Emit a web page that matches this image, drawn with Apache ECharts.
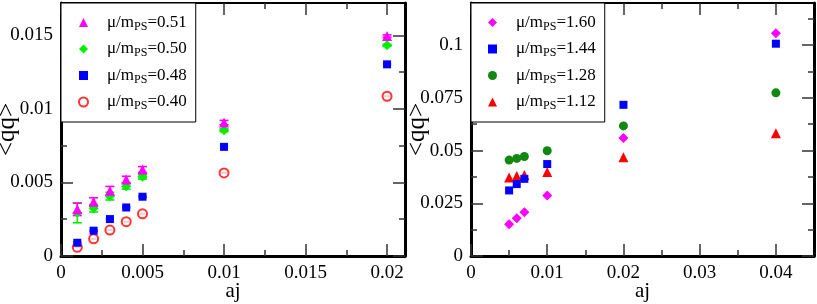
<!DOCTYPE html>
<html><head><meta charset="utf-8">
<script src="https://cdn.jsdelivr.net/npm/echarts@6/dist/echarts.min.js"></script>
<style>html,body{margin:0;padding:0;background:#fff}#c{width:817px;height:304px}</style>
</head><body><div id="c"></div>
<script>
// ---------- data ----------
const leftNames = ['μ/m_PS=0.51', 'μ/m_PS=0.50', 'μ/m_PS=0.48', 'μ/m_PS=0.40'];
const leftX = [0.001, 0.002, 0.003, 0.004, 0.005, 0.01, 0.02];
const leftY051 = [0.00317, 0.00369, 0.00443, 0.00520, 0.00588, 0.00907, 0.01495];
const leftE051 = [0.00042, 0.00027, 0.00030, 0.00022, 0.00020, 0.00015, 0.00008];
const leftY050 = [0.00294, 0.00324, 0.00407, 0.00475, 0.00538, 0.00855, 0.01432];
const leftE050 = [0.00068, 0.00025, 0.00026, 0.00020, 0.00015, 0.00010, 0.00006];
const leftY048 = [0.00090, 0.00172, 0.00251, 0.00330, 0.00403, 0.00742, 0.01303];
const leftE048 = [0.00006, 0.00004, 0.00004, 0.00004, 0.00004, 0.00004, 0.00004];
const leftY040 = [0.00059, 0.00117, 0.00176, 0.00233, 0.00287, 0.00565, 0.01086];
const leftE040 = [0.00001, 0.00001, 0.00001, 0.00001, 0.00001, 0.00001, 0.00001];

const rightNames = ['μ/m_PS=1.60', 'μ/m_PS=1.44', 'μ/m_PS=1.28', 'μ/m_PS=1.12'];
const rightX = [0.005, 0.006, 0.007, 0.01, 0.02, 0.04];
const rightY160 = [0.0151, 0.0179, 0.0208, 0.0287, 0.0560, 0.1057];
const rightY144 = [0.0311, 0.0341, 0.0366, 0.0436, 0.0717, 0.1007];
const rightY128 = [0.0455, 0.0463, 0.0472, 0.0499, 0.0617, 0.0774];
const rightY112 = [0.0372, 0.0380, 0.0384, 0.0398, 0.0468, 0.0582];

const leftXTicks = [0, 0.005, 0.01, 0.015, 0.02];
const leftXMinor = [0.0025, 0.0075, 0.0125, 0.0175];
const leftYTicks = [0, 0.005, 0.01, 0.015];
const leftYMinor = [0.0025, 0.0075, 0.0125];
const rightXTicks = [0, 0.01, 0.02, 0.03, 0.04];
const rightXMinor = [0.005, 0.015, 0.025, 0.035];
const rightYTicks = [0, 0.025, 0.05, 0.075, 0.1];
const rightYMinor = [0.0125, 0.0375, 0.0625, 0.0875, 0.1125];

const xName = 'aj';
const yName = '<qq>';

// ---------- helpers ----------
const FONT = 'Liberation Serif';
const TICK = '#333';

function pairs(xs, ys) { return xs.map((x, i) => [x, ys[i]]); }
function triples(xs, ys, es) { return xs.map((x, i) => [x, ys[i], es[i]]); }

function axisSet(dim, grid, max, majors, minors) {
  const isX = dim === 'x';
  const posA = isX ? 'bottom' : 'left';
  const posB = isX ? 'top' : 'right';
  const base = { type: 'value', gridIndex: grid, min: 0, max: max, splitLine: { show: false }, scale: false };
  const out = [];
  out.push(Object.assign({}, base, {
    position: posA,
    name: isX ? xName : yName,
    nameLocation: 'middle',
    nameGap: isX ? 25 : 41,
    nameMoveOverlap: false,
    nameTextStyle: { fontFamily: FONT, fontSize: isX ? 21 : 25, color: '#000' },
    axisLine: { show: true, onZero: false, lineStyle: { color: '#000', width: 3 } },
    axisTick: { show: true, inside: true, length: 12, customValues: majors, lineStyle: { color: TICK, width: 1.5 } },
    axisLabel: { show: true, customValues: majors, margin: isX ? 8 : 8, fontFamily: FONT, fontSize: 19, color: '#000', hideOverlap: false }
  }));
  out.push(Object.assign({}, base, {
    position: posA,
    axisLine: { show: false, onZero: false },
    axisTick: { show: true, inside: true, length: 6, customValues: minors, lineStyle: { color: TICK, width: 1.5 } },
    axisLabel: { show: false }
  }));
  out.push(Object.assign({}, base, {
    position: posB,
    axisLine: { show: true, onZero: false, lineStyle: { color: '#000', width: isX ? 2 : 3 } },
    axisTick: { show: true, inside: true, length: 12, customValues: majors, lineStyle: { color: TICK, width: 1.5 } },
    axisLabel: { show: false }
  }));
  out.push(Object.assign({}, base, {
    position: posB,
    axisLine: { show: false, onZero: false },
    axisTick: { show: true, inside: true, length: 6, customValues: minors, lineStyle: { color: TICK, width: 1.5 } },
    axisLabel: { show: false }
  }));
  return out;
}

const xAxes = [].concat(
  axisSet('x', 0, 0.0211, leftXTicks, leftXMinor),
  axisSet('x', 1, 0.045, rightXTicks, rightXMinor)
);
const yAxes = [].concat(
  axisSet('y', 0, 0.0172, leftYTicks, leftYMinor),
  axisSet('y', 1, 0.12, rightYTicks, rightYMinor)
);

function scatter(name, grid, data, symbol, size, color, extra) {
  return Object.assign({
    name: name, type: 'scatter', xAxisIndex: grid * 4, yAxisIndex: grid * 4,
    data: data, symbol: symbol, symbolSize: size,
    itemStyle: { color: color, opacity: 1 },
    emphasis: { disabled: true }, silent: true, z: 3
  }, extra || {});
}

function errbar(id, grid, data, color, capHalf) {
  return {
    name: id, type: 'custom', xAxisIndex: grid * 4, yAxisIndex: grid * 4,
    data: data, silent: true, z: 3,
    renderItem: function (params, api) {
      const x = api.value(0), y = api.value(1), e = api.value(2);
      const lo = api.coord([x, y - e]);
      const hi = api.coord([x, y + e]);
      const st = { stroke: color, lineWidth: 1.6 };
      return {
        type: 'group',
        children: [
          { type: 'line', shape: { x1: lo[0], y1: lo[1], x2: hi[0], y2: hi[1] }, style: st },
          { type: 'line', shape: { x1: lo[0] - capHalf, y1: lo[1], x2: lo[0] + capHalf, y2: lo[1] }, style: st },
          { type: 'line', shape: { x1: hi[0] - capHalf, y1: hi[1], x2: hi[0] + capHalf, y2: hi[1] }, style: st }
        ]
      };
    }
  };
}

const MAG = '#ff00ff', LGREEN = '#00ee00', BLUE = '#0000ff', RED = '#ff0000', DGREEN = '#118811';

const series = [
  scatter(leftNames[3], 0, pairs(leftX, leftY040), 'emptyCircle', 9, RED, { itemStyle: { color: RED, borderWidth: 2.2 } }),
  errbar('e040', 0, triples(leftX, leftY040, leftE040), RED, 2.5),
  errbar('e048', 0, triples(leftX, leftY048, leftE048), BLUE, 4),
  scatter(leftNames[2], 0, pairs(leftX, leftY048), 'rect', 8, BLUE),
  errbar('e050', 0, triples(leftX, leftY050, leftE050), LGREEN, 4.5),
  scatter(leftNames[1], 0, pairs(leftX, leftY050), 'diamond', 10, LGREEN),
  errbar('e051', 0, triples(leftX, leftY051, leftE051), MAG, 4.5),
  scatter(leftNames[0], 0, pairs(leftX, leftY051), 'triangle', 10, MAG),

  scatter(rightNames[3], 1, pairs(rightX, rightY112), 'triangle', 10, RED),
  scatter(rightNames[2], 1, pairs(rightX, rightY128), 'circle', 9, DGREEN),
  scatter(rightNames[1], 1, pairs(rightX, rightY144), 'rect', 8, BLUE),
  scatter(rightNames[0], 1, pairs(rightX, rightY160), 'diamond', 10, MAG)
];

function legendFmt(name) {
  const v = name.split('=')[1];
  return '{b|μ/m}{s|PS}{a|=' + v + '}';
}
const legendRich = {
  a: { fontFamily: FONT, fontSize: 17, color: '#000', lineHeight: 20 },
  b: { fontFamily: FONT, fontSize: 17, color: '#000', lineHeight: 20, padding: [0, 0, 0, 14] },
  s: { fontFamily: FONT, fontSize: 12, color: '#000', lineHeight: 2, verticalAlign: 'bottom' }
};
function legend(left, names) {
  return {
    left: left, top: 3, orient: 'vertical', data: names,
    padding: [11, 9, 10, 17], itemGap: 8, itemWidth: 9, itemHeight: 9,
    backgroundColor: '#fff', borderColor: '#000', borderWidth: 1,
    selectedMode: false, formatter: legendFmt,
    textStyle: { fontFamily: FONT, fontSize: 17, color: '#000', rich: legendRich },
    z: 10
  };
}

const option = {
  animation: false,
  backgroundColor: '#fff',
  textStyle: { fontFamily: FONT },
  grid: [
    { left: 61, top: 3, width: 344, height: 253, containLabel: false, outerBoundsMode: 'none' },
    { left: 471, top: 3, width: 343, height: 253, containLabel: false, outerBoundsMode: 'none' }
  ],
  xAxis: xAxes,
  yAxis: yAxes,
  legend: [legend(61, leftNames), legend(471, rightNames)],
  series: series
};

const chart = echarts.init(document.getElementById('c'), null, { renderer: 'canvas' });
chart.setOption(option);
</script>
</body></html>
